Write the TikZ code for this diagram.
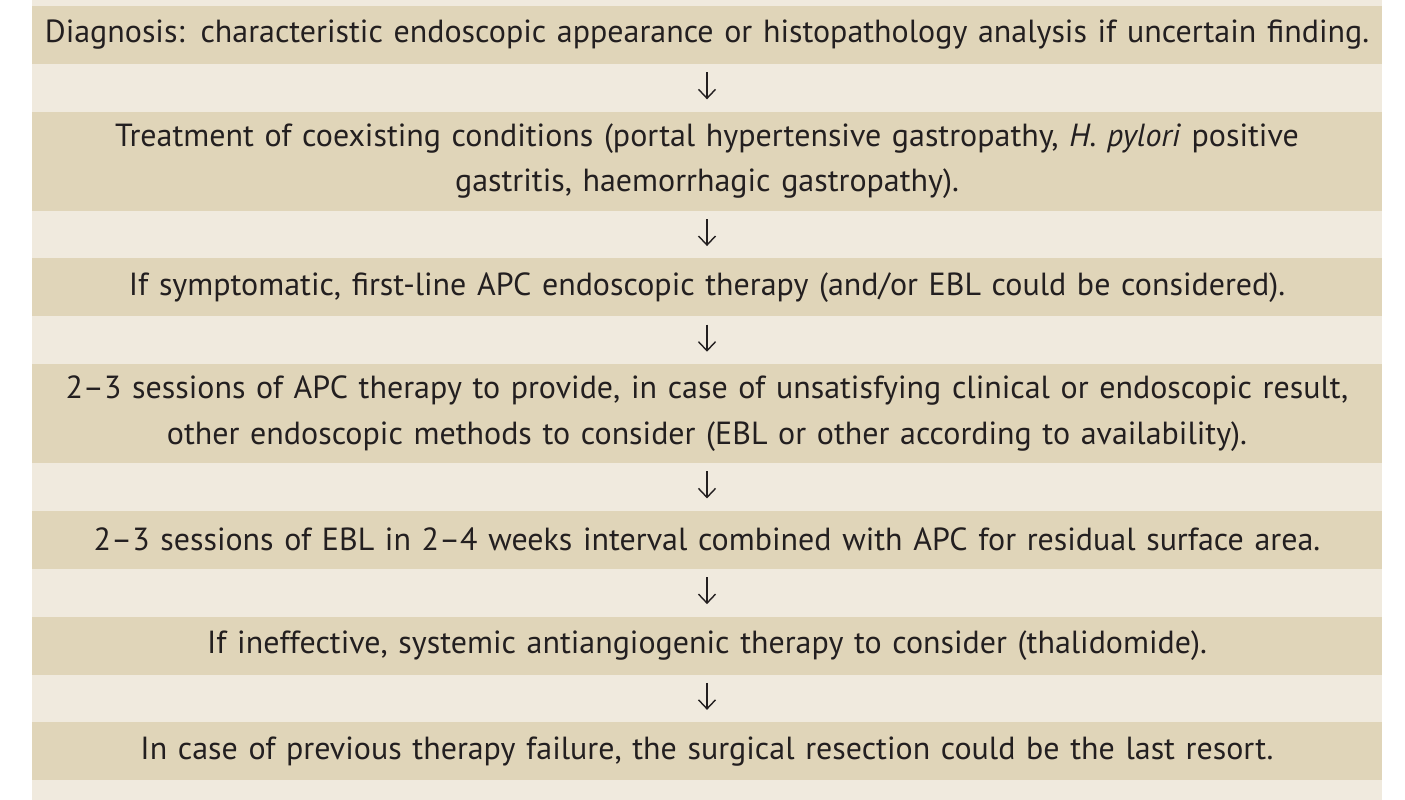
\documentclass[tikz,border=0pt]{standalone}
\usepackage{fontspec}
\setmainfont{PT Sans}
\usetikzlibrary{positioning,arrows.meta}
\definecolor{bandlight}{RGB}{240,234,222}
\definecolor{banddark}{RGB}{224,213,185}
\definecolor{inkdark}{RGB}{35,31,32}

\begin{document}
\begin{tikzpicture}[
    stepbox/.style = {fill=banddark, text=inkdark, align=center,
        text width=27cm, minimum height=1.16cm, inner sep=0pt,
        font=\fontsize{18.2}{26}\selectfont},
    twoline/.style = {minimum height=1.98cm},
    flow/.style = {draw=inkdark, line width=0.8pt,
        -{Straight Barb[length=1.8mm,width=3.4mm]},
        shorten <=0.16cm, shorten >=0.24cm},
    node distance = 0.94cm]
    \useasboundingbox (0,0) rectangle (28.1,16);
    \fill[bandlight] (0.64,0) rectangle (27.64,16);

    \node[stepbox] (diag) at (14.14,15.3)
        {Diagnosis: characteristic endoscopic appearance or histopathology analysis if uncertain finding.};
    \node[stepbox, twoline, below=of diag] (coex)
        {Treatment of coexisting conditions (portal hypertensive gastropathy, \textit{H. pylori} positive\\
         gastritis, haemorrhagic gastropathy).};
    \node[stepbox, below=of coex] (apc)
        {If symptomatic, first-line APC endoscopic therapy (and/or EBL could be considered).};
    \node[stepbox, twoline, below=of apc] (sess)
        {2–3 sessions of APC therapy to provide, in case of unsatisfying clinical or endoscopic result,\\
         other endoscopic methods to consider (EBL or other according to availability).};
    \node[stepbox, below=of sess] (ebl)
        {2–3 sessions of EBL in 2–4 weeks interval combined with APC for residual surface area.};
    \node[stepbox, below=of ebl] (syst)
        {If ineffective, systemic antiangiogenic therapy to consider (thalidomide).};
    \node[stepbox, below=of syst] (surg)
        {In case of previous therapy failure, the surgical resection could be the last resort.};

    \foreach \a/\b in {diag/coex, coex/apc, apc/sess, sess/ebl, ebl/syst, syst/surg}
        \draw[flow] (\a.south) -- (\b.north);
\end{tikzpicture}
\end{document}
